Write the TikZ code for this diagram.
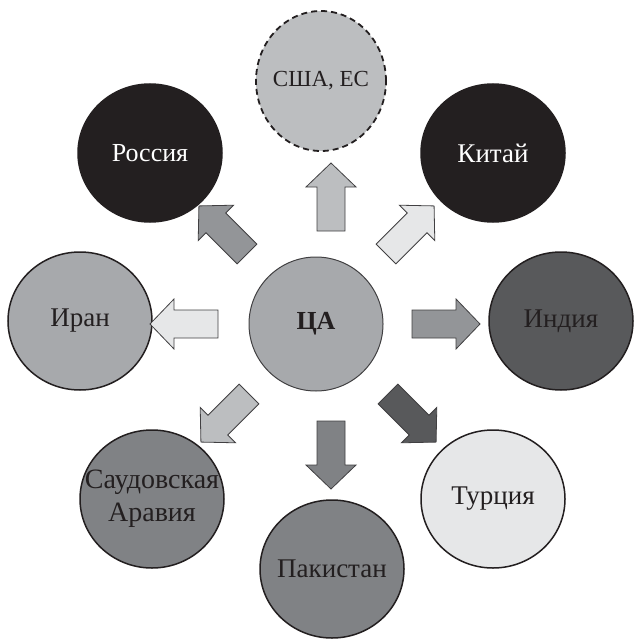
\documentclass[tikz,border=0pt]{standalone}
\usepackage{fontspec}
\setmainfont{Liberation Serif}
\usepackage{xcolor}
\usepackage{tikz}
\usetikzlibrary{shapes.geometric}

\definecolor{inkc}{HTML}{231F20}
\definecolor{edgec}{HTML}{414042}
\definecolor{grayA}{HTML}{A7A9AC}
\definecolor{grayB}{HTML}{BCBEC0}
\definecolor{grayC}{HTML}{939598}
\definecolor{grayD}{HTML}{808285}
\definecolor{grayE}{HTML}{58595B}
\definecolor{grayF}{HTML}{E6E7E8}

\begin{document}
\begin{tikzpicture}[
      x=1pt, y=-1pt,
      every node/.style={font=\fontsize{27}{32}\selectfont, text=inkc},
      country/.style={
        draw=inkc, ellipse, line width=1.5pt, inner xsep=-40pt, inner ysep=0pt,
        minimum width=144pt, minimum height=138pt, align=center
      },
      hub/.style={
        draw=edgec, circle, line width=1pt, minimum size=134pt,
        inner sep=0pt, fill=grayA, font=\fontsize{26}{30}\selectfont\bfseries
      },
      blockarr/.pic={
        \path[pic actions] (0,-14) -- (44,-14) -- (44,-25) -- (68,0)
          -- (44,25) -- (44,14) -- (0,14) -- cycle;
      },
      barr/.style={draw=edgec, line width=0.8pt, line join=miter}
    ]
    \useasboundingbox (0,0) rectangle (633,639);

    % hub
    \node[hub] (CA) at (316,324) {ЦА};

    % partners
    \node[country, dashed, dash pattern=on 6pt off 4pt, line width=1.8pt,
          fill=grayB, minimum width=130pt, minimum height=140pt,
          font=\fontsize{23}{28}\selectfont]
          (USA) at (321,81) {США, ЕС};
    \node[country, fill=inkc, text=white, font=\fontsize{26}{30}\selectfont]
          (RUS) at (150,153) {Россия};
    \node[country, fill=inkc, text=white] (CHN) at (493,153) {Китай};
    \node[country, fill=grayA] (IRN) at (80,321) {Иран};
    \node[country, fill=grayE] (IND) at (561,321) {Индия};
    \node[country, fill=grayD, font=\fontsize{28}{33}\selectfont]
          (SAU) at (152,499) {Саудовская\\Аравия};
    \node[country, fill=grayF] (TUR) at (493,499) {Турция};
    \node[country, fill=grayD] (PAK) at (332,569) {Пакистан};

    % arrows from CA
    \pic[barr, fill=grayB, rotate=90]  at (331,231) {blockarr};
    \pic[barr, fill=grayC, rotate=135] at (247,254) {blockarr};
    \pic[barr, fill=grayF, rotate=45]  at (386,254) {blockarr};
    \pic[barr, fill=grayF, rotate=180] at (218,324) {blockarr};
    \pic[barr, fill=grayC, rotate=0]   at (412,324) {blockarr};
    \pic[barr, fill=grayB, rotate=225] at (249,394) {blockarr};
    \pic[barr, fill=grayD, rotate=270] at (331,421) {blockarr};
    \pic[barr, fill=grayE, rotate=315] at (388,394) {blockarr};
  \end{tikzpicture}
\end{document}
